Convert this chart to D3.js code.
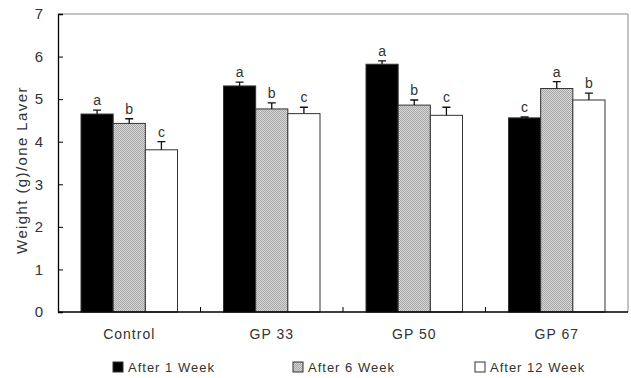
<!DOCTYPE html>
<html lang="en">
<head>
  <meta charset="UTF-8" />
  <title>Weight per Laver</title>
  <style>
    body { margin: 0; background: #fff; }
    svg text { font-family: "Liberation Sans", Arial, sans-serif; fill: #333; }
  </style>
</head>
<body>
  <div id="chart"></div>
  <script src="https://d3js.org/d3.v7.min.js"></script>
  <script>
    // data
    const groups = ["Control", "GP 33", "GP 50", "GP 67"];
    const seriesNames = ["After 1 Week", "After 6 Week", "After 12 Week"];
    const week1 = [4.65, 5.31, 5.82, 4.56];
    const week6 = [4.43, 4.77, 4.86, 5.25];
    const week12 = [3.81, 4.66, 4.62, 4.98];
    const err1 = [0.09, 0.09, 0.08, 0.02];
    const err6 = [0.11, 0.14, 0.12, 0.16];
    const err12 = [0.19, 0.15, 0.19, 0.16];
    const letters1 = ["a", "a", "a", "c"];
    const letters6 = ["b", "b", "b", "a"];
    const letters12 = ["c", "c", "c", "b"];
    const yTicks = [0, 1, 2, 3, 4, 5, 6, 7];

    const W = 631, H = 378;
    const margin = {top: 14, right: 3, bottom: 66, left: 58};
    const width = W - margin.left - margin.right,
          height = H - margin.top - margin.bottom;

    const svg = d3.select("#chart").append("svg")
      .attr("width", W).attr("height", H);

    // fine stipple for the 6-week bars
    const pat = svg.append("defs").append("pattern")
      .attr("id", "hatch")
      .attr("patternUnits", "userSpaceOnUse")
      .attr("width", 2).attr("height", 2);
    pat.append("rect").attr("width", 2).attr("height", 2).attr("fill", "#d8d8d8");
    pat.append("rect").attr("width", 1).attr("height", 1).attr("fill", "#a6a6a6");
    pat.append("rect").attr("x", 1).attr("y", 1).attr("width", 1).attr("height", 1).attr("fill", "#a6a6a6");

    const fills = ["#000", "url(#hatch)", "#fff"];
    const series = [
      {vals: week1, err: err1, lab: letters1},
      {vals: week6, err: err6, lab: letters6},
      {vals: week12, err: err12, lab: letters12}
    ];

    const g = svg.append("g")
      .attr("transform", `translate(${margin.left},${margin.top})`);

    const x0 = d3.scaleBand().domain(groups).range([0, width]).padding(0);
    const x1 = d3.scaleBand().domain(d3.range(3)).range([23, x0.bandwidth() - 23]).padding(0);
    const y = d3.scaleLinear().domain([0, 7]).range([height, 0]);

    // frame top/right
    g.append("path")
      .attr("d", `M0,0 H${width} V${height}`)
      .attr("fill", "none").attr("stroke", "#888").attr("stroke-width", 1);

    // bars
    series.forEach((s, i) => {
      const sg = g.append("g");
      sg.selectAll("rect").data(groups).enter().append("rect")
        .attr("x", (d) => x0(d) + x1(i))
        .attr("y", (d, j) => y(s.vals[j]))
        .attr("width", x1.bandwidth())
        .attr("height", (d, j) => height - y(s.vals[j]))
        .attr("fill", fills[i])
        .attr("stroke", "#333").attr("stroke-width", 1);

      // error bars
      sg.selectAll("path.err").data(groups).enter().append("path")
        .attr("class", "err")
        .attr("d", (d, j) => {
          const cx = x0(d) + x1(i) + x1.bandwidth() / 2;
          const yt = y(s.vals[j] + s.err[j]), yb = y(s.vals[j]);
          return `M${cx},${yb} V${yt} M${cx - 4},${yt} H${cx + 4}`;
        })
        .attr("stroke", "#111").attr("stroke-width", 1.3).attr("fill", "none");

      sg.selectAll("text").data(groups).enter().append("text")
        .attr("x", (d) => x0(d) + x1(i) + x1.bandwidth() / 2)
        .attr("y", (d, j) => y(s.vals[j] + s.err[j]) - 5)
        .attr("text-anchor", "middle")
        .style("font-size", "14px")
        .text((d, j) => s.lab[j]);
    });

    // y axis
    const yAxis = g.append("g")
      .call(d3.axisLeft(y).tickValues(yTicks).tickSize(-5).tickPadding(15).tickFormat(d3.format("d")));
    yAxis.select(".domain").attr("stroke", "#000").attr("stroke-width", 1.3);
    yAxis.selectAll(".tick line").attr("stroke", "#000");
    yAxis.selectAll("text").style("font-size", "15px").attr("fill", "#333");

    // x axis with inward ticks between groups
    g.append("line")
      .attr("x1", 0).attr("x2", width).attr("y1", height).attr("y2", height)
      .attr("stroke", "#000").attr("stroke-width", 1.3);
    g.selectAll("line.sep").data(groups.slice(1)).enter().append("line")
      .attr("class", "sep")
      .attr("x1", (d) => x0(d)).attr("x2", (d) => x0(d))
      .attr("y1", height).attr("y2", height - 5)
      .attr("stroke", "#000");
    g.selectAll("text.cat").data(groups).enter().append("text")
      .attr("class", "cat")
      .attr("x", (d) => x0(d) + x0.bandwidth() / 2)
      .attr("y", height + 27)
      .attr("text-anchor", "middle")
      .style("font-size", "14px").style("letter-spacing", "1px")
      .text((d) => d);

    // y label
    svg.append("text")
      .attr("transform", `translate(27,${170}) rotate(-90)`)
      .attr("text-anchor", "middle")
      .style("font-size", "15px").style("letter-spacing", "1.4px")
      .text("Weight (g)/one Laver");

    // legend
    const legX = [113, 293, 475];
    const leg = svg.selectAll("g.leg").data(seriesNames).enter().append("g")
      .attr("class", "leg")
      .attr("transform", (d, i) => `translate(${legX[i]},362)`);
    leg.append("rect").attr("width", 10).attr("height", 10)
      .attr("fill", (d, i) => fills[i]).attr("stroke", "#333");
    leg.append("text").attr("x", 15).attr("y", 10)
      .style("font-size", "13px").style("letter-spacing", "1px")
      .text((d) => d);
  </script>
</body>
</html>
